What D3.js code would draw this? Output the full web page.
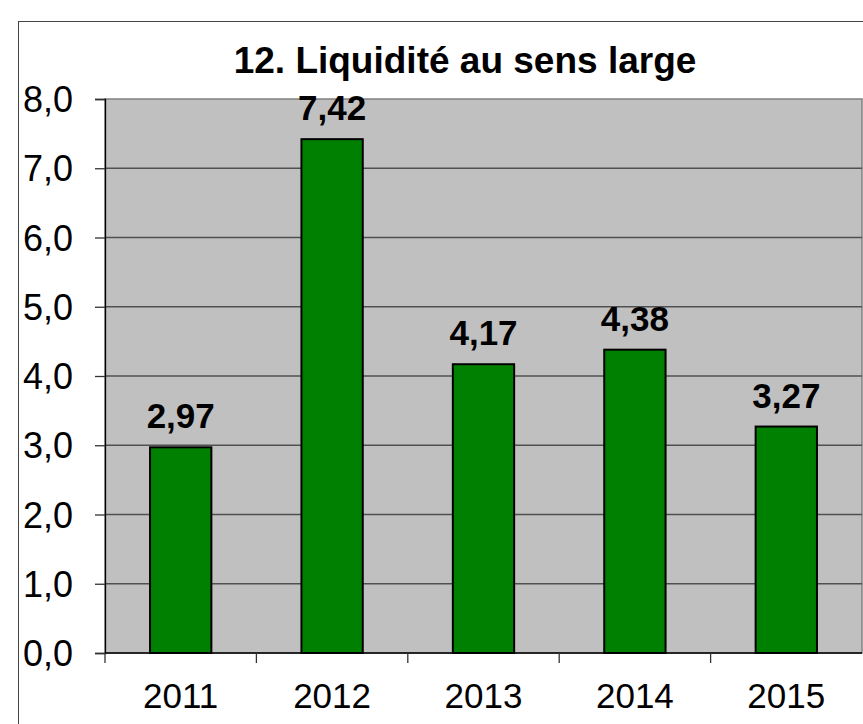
<!DOCTYPE html>
<html>
<head>
<meta charset="utf-8">
<script src="https://cdn.jsdelivr.net/npm/d3@7"></script>
<style>
    body { margin: 0; background: #fff; }
    svg { display: block; font-family: Arial, "Liberation Sans", sans-serif; }
</style>
</head>
<body>
<svg id="chart" width="863" height="724"></svg>
<script>
// chart values
const years = ["2011", "2012", "2013", "2014", "2015"];
const values = [2.97, 7.42, 4.17, 4.38, 3.27];
const yTicks = [0, 1, 2, 3, 4, 5, 6, 7, 8];
const title = "12. Liquidité au sens large";

let svg = d3.select("#chart");

let margin = { top: 99, right: 1, bottom: 71, left: 105 },
    width = +svg.attr("width") - margin.left - margin.right,
    height = +svg.attr("height") - margin.top - margin.bottom;

let comma = d => d.toFixed(1).replace(".", ",");

// outer frame of the chart object
svg.append("rect")
    .attr("x", 18.5).attr("y", 21.5)
    .attr("width", 900).attr("height", 800)
    .attr("fill", "#fff")
    .attr("stroke", "#444").attr("stroke-width", 1);

svg.append("text")
    .attr("x", 465).attr("y", 73)
    .attr("text-anchor", "middle")
    .attr("font-size", 37).attr("font-weight", "bold")
    .text(title);

let x = d3.scaleBand().domain(years).range([0, width]).paddingInner(0.595).paddingOuter(0.2975),
    y = d3.scaleLinear().domain([0, 8]).range([height, 0]);

let g = svg.append("g")
    .attr("transform", "translate(" + margin.left + "," + margin.top + ")");

// plot area
g.append("rect")
    .attr("width", width).attr("height", height)
    .attr("fill", "#c0c0c0")
    .attr("stroke", "#808080").attr("stroke-width", 1.5);

// gridlines
g.selectAll(".grid")
    .data(yTicks.slice(1, -1))
    .enter()
    .append("line")
    .attr("x1", 0).attr("x2", width)
    .attr("y1", d => y(d)).attr("y2", d => y(d))
    .attr("stroke", "#505050").attr("stroke-width", 1.3);

// bars
g.selectAll(".bar")
    .data(values)
    .enter()
    .append("rect")
    .attr("x", (d, i) => x(years[i]))
    .attr("y", d => y(d))
    .attr("width", x.bandwidth())
    .attr("height", d => height - y(d))
    .attr("fill", "#008000")
    .attr("stroke", "#000").attr("stroke-width", 2);

// value labels
g.selectAll(".lbl")
    .data(values)
    .enter()
    .append("text")
    .attr("x", (d, i) => x(years[i]) + x.bandwidth() / 2)
    .attr("y", d => y(d) - 19)
    .attr("text-anchor", "middle")
    .attr("font-size", 35).attr("font-weight", "bold")
    .text(d => d.toFixed(2).replace(".", ","));

// y axis
let yAxis = g.append("g")
    .call(d3.axisLeft(y).tickValues(yTicks).tickFormat(comma).tickSize(10).tickPadding(22));
yAxis.select(".domain").attr("stroke", "#000").attr("stroke-width", 1.3);
yAxis.selectAll(".tick line").attr("stroke", "#333").attr("stroke-width", 1.3);
yAxis.selectAll("text").attr("font-size", 36).attr("fill", "#000").attr("dy", "0.35em");

// x axis: ticks sit between categories
let xAxis = g.append("g")
    .attr("transform", "translate(0," + height + ")");
xAxis.append("line")
    .attr("x1", 0).attr("x2", width)
    .attr("stroke", "#000").attr("stroke-width", 1.3);
xAxis.selectAll(".sep")
    .data(d3.range(years.length))
    .enter()
    .append("line")
    .attr("x1", i => width / years.length * i).attr("x2", i => width / years.length * i)
    .attr("y1", 0).attr("y2", 10)
    .attr("stroke", "#333").attr("stroke-width", 1.3);
xAxis.selectAll(".yr")
    .data(years)
    .enter()
    .append("text")
    .attr("x", d => x(d) + x.bandwidth() / 2)
    .attr("y", 55)
    .attr("text-anchor", "middle")
    .attr("font-size", 35)
    .text(d => d);
</script>
</body>
</html>
